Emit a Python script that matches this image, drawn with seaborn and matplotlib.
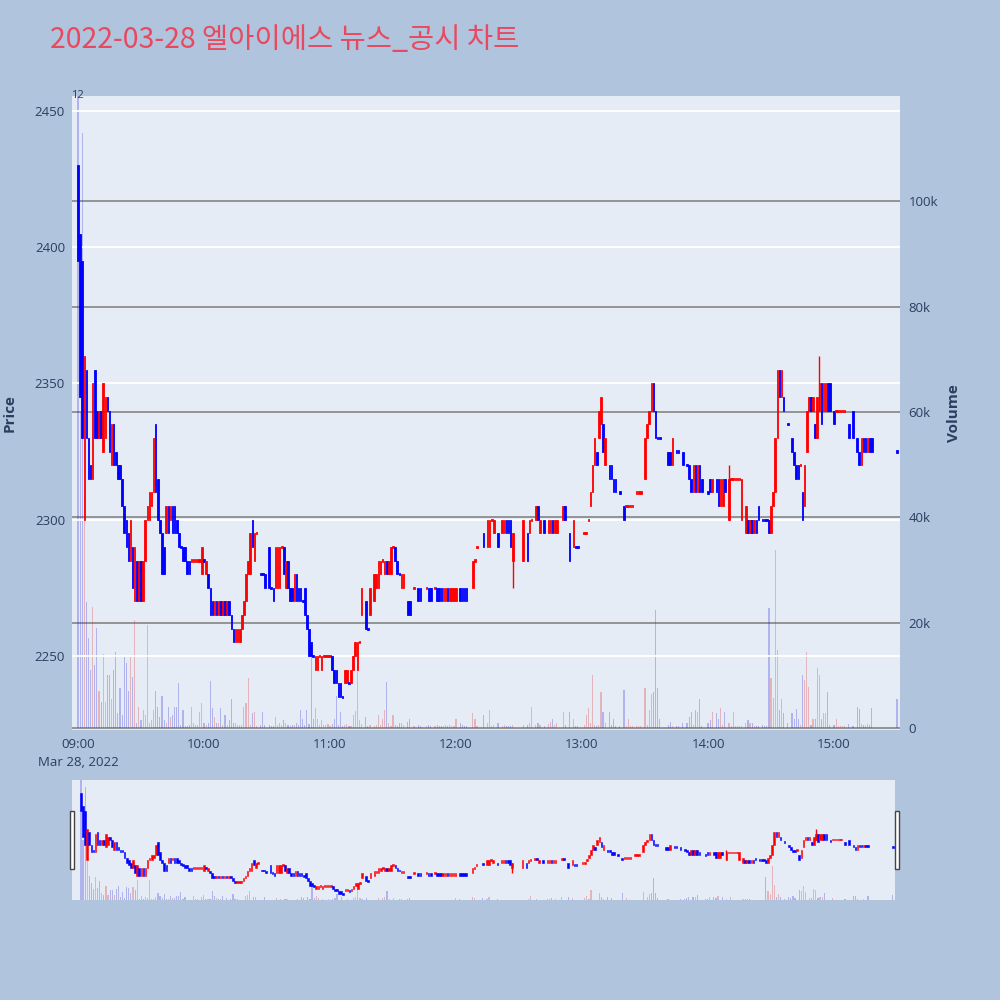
import numpy as np
import pandas as pd
import seaborn as sns
import matplotlib.pyplot as plt
from matplotlib.patches import Rectangle

# minutes after 09:00 that traded, with open / close (KRW) and volume (thousand shares)
minute = [
    0, 1, 2, 3, 4, 5, 6, 7, 8, 9, 10, 11, 12, 13, 14, 15, 16, 17, 18, 19,
    20, 21, 22, 23, 24, 25, 26, 27, 28, 29, 30, 31, 32, 33, 34, 35, 36, 37, 38, 39,
    40, 41, 42, 43, 44, 45, 46, 47, 48, 49, 50, 51, 52, 53, 54, 55, 56, 57, 58, 59,
    60, 61, 62, 63, 64, 65, 66, 67, 68, 69, 70, 71, 72, 73, 74, 75, 76, 77, 78, 79,
    80, 81, 82, 83, 84, 85, 87, 88, 89, 91, 92, 93, 94, 95, 96, 97, 98, 99, 100, 101,
    102, 103, 104, 105, 106, 107, 108, 109, 110, 111, 112, 113, 114, 115, 116, 117, 118, 119, 120, 121,
    122, 123, 124, 125, 126, 127, 128, 129, 130, 131, 132, 133, 134, 135, 137, 138, 139, 141, 142, 143,
    144, 145, 146, 147, 148, 149, 150, 151, 152, 153, 154, 155, 157, 158, 160, 162, 163, 166, 167, 168,
    170, 171, 172, 173, 174, 175, 176, 177, 178, 179, 180, 182, 183, 184, 185, 188, 189, 190, 193, 195,
    196, 197, 198, 200, 202, 203, 204, 205, 206, 207, 212, 214, 215, 216, 218, 219, 220, 222, 224, 225,
    226, 227, 228, 231, 232, 234, 236, 237, 238, 241, 242, 243, 244, 245, 246, 247, 248, 249, 250, 251,
    253, 254, 255, 256, 258, 260, 261, 262, 263, 264, 266, 267, 268, 270, 271, 272, 273, 274, 275, 276,
    277, 281, 282, 283, 285, 286, 288, 290, 291, 292, 293, 294, 295, 296, 297, 300, 301, 302, 304, 305,
    306, 307, 308, 310, 311, 312, 313, 314, 315, 316, 318, 319, 320, 321, 322, 323, 324, 326, 327, 328,
    329, 330, 331, 332, 333, 334, 335, 336, 338, 340, 341, 342, 343, 344, 345, 346, 347, 348, 349, 350,
    351, 352, 353, 354, 355, 356, 357, 358, 360, 361, 362, 363, 364, 365, 367, 369, 371, 372, 373, 374,
    375, 376, 377, 378, 390,
]
opens = [
    2430, 2405, 2395, 2300, 2355, 2330, 2320, 2315, 2355, 2340, 2330, 2340, 2325, 2330, 2345, 2340, 2320, 2335, 2325, 2320,
    2320, 2315, 2305, 2300, 2295, 2285, 2290, 2270, 2285, 2270, 2285, 2270, 2285, 2300, 2300, 2305, 2310, 2335, 2315, 2300,
    2295, 2290, 2295, 2305, 2300, 2305, 2305, 2300, 2295, 2290, 2290, 2290, 2285, 2285, 2285, 2285, 2285, 2285, 2285, 2280,
    2285, 2280, 2280, 2275, 2270, 2265, 2270, 2265, 2270, 2265, 2270, 2265, 2270, 2265, 2260, 2255, 2255, 2255, 2260, 2265,
    2270, 2280, 2280, 2300, 2285, 2295, 2280, 2280, 2280, 2290, 2275, 2275, 2275, 2275, 2275, 2290, 2290, 2275, 2285, 2275,
    2275, 2270, 2280, 2275, 2275, 2270, 2275, 2265, 2260, 2255, 2250, 2245, 2245, 2250, 2245, 2250, 2250, 2250, 2250, 2250,
    2245, 2245, 2240, 2240, 2235, 2240, 2240, 2240, 2240, 2245, 2250, 2245, 2255, 2265, 2270, 2260, 2265, 2270, 2275, 2275,
    2280, 2285, 2280, 2285, 2280, 2280, 2290, 2290, 2285, 2280, 2275, 2275, 2270, 2270, 2275, 2275, 2275, 2275, 2275, 2275,
    2275, 2275, 2275, 2275, 2270, 2270, 2275, 2270, 2270, 2270, 2270, 2275, 2275, 2275, 2275, 2275, 2285, 2290, 2295, 2290,
    2290, 2300, 2295, 2295, 2295, 2295, 2300, 2300, 2300, 2285, 2285, 2295, 2295, 2300, 2300, 2305, 2295, 2300, 2295, 2295,
    2300, 2295, 2295, 2300, 2305, 2295, 2290, 2290, 2290, 2295, 2295, 2300, 2305, 2310, 2320, 2325, 2330, 2335, 2335, 2320,
    2320, 2320, 2315, 2315, 2310, 2305, 2305, 2305, 2305, 2305, 2310, 2310, 2310, 2315, 2330, 2335, 2340, 2350, 2340, 2330,
    2330, 2325, 2325, 2320, 2325, 2325, 2325, 2320, 2320, 2315, 2310, 2320, 2310, 2320, 2315, 2310, 2315, 2310, 2315, 2315,
    2305, 2305, 2315, 2300, 2315, 2315, 2315, 2315, 2315, 2300, 2295, 2300, 2295, 2300, 2295, 2300, 2305, 2300, 2300, 2300,
    2300, 2295, 2305, 2310, 2330, 2355, 2345, 2345, 2335, 2330, 2325, 2320, 2320, 2320, 2310, 2305, 2325, 2340, 2345, 2340,
    2335, 2330, 2340, 2350, 2340, 2340, 2350, 2350, 2340, 2340, 2340, 2340, 2340, 2340, 2335, 2340, 2330, 2325, 2320, 2330,
    2330, 2325, 2330, 2330, 2325,
]
closes = [
    2395, 2345, 2330, 2360, 2330, 2315, 2315, 2350, 2330, 2330, 2340, 2330, 2350, 2345, 2340, 2325, 2335, 2320, 2320, 2315,
    2315, 2305, 2295, 2290, 2285, 2300, 2275, 2290, 2270, 2285, 2270, 2285, 2300, 2305, 2310, 2310, 2330, 2310, 2300, 2295,
    2280, 2280, 2305, 2295, 2305, 2295, 2295, 2295, 2290, 2290, 2285, 2285, 2280, 2280, 2285, 2285, 2285, 2285, 2285, 2290,
    2285, 2285, 2275, 2265, 2265, 2270, 2265, 2270, 2265, 2270, 2265, 2270, 2265, 2260, 2255, 2260, 2260, 2260, 2265, 2270,
    2280, 2285, 2295, 2290, 2295, 2295, 2280, 2280, 2275, 2275, 2275, 2270, 2290, 2290, 2290, 2290, 2280, 2285, 2275, 2270,
    2270, 2280, 2270, 2270, 2270, 2270, 2265, 2260, 2250, 2250, 2250, 2250, 2250, 2250, 2250, 2250, 2250, 2250, 2250, 2245,
    2240, 2240, 2235, 2235, 2235, 2245, 2245, 2240, 2245, 2250, 2255, 2255, 2255, 2275, 2260, 2260, 2275, 2280, 2280, 2285,
    2285, 2285, 2285, 2280, 2285, 2290, 2290, 2285, 2280, 2280, 2280, 2280, 2265, 2265, 2275, 2270, 2270, 2275, 2270, 2270,
    2275, 2270, 2270, 2270, 2275, 2275, 2270, 2275, 2275, 2275, 2275, 2270, 2270, 2270, 2270, 2285, 2285, 2290, 2290, 2300,
    2300, 2300, 2300, 2290, 2300, 2300, 2295, 2295, 2290, 2295, 2300, 2285, 2300, 2300, 2305, 2300, 2300, 2295, 2300, 2300,
    2295, 2300, 2300, 2305, 2300, 2285, 2300, 2290, 2290, 2295, 2295, 2300, 2310, 2320, 2330, 2320, 2340, 2345, 2325, 2330,
    2315, 2315, 2310, 2310, 2310, 2300, 2305, 2305, 2305, 2305, 2310, 2310, 2310, 2330, 2335, 2340, 2350, 2340, 2330, 2330,
    2330, 2320, 2320, 2330, 2325, 2325, 2320, 2320, 2315, 2310, 2320, 2310, 2320, 2310, 2310, 2310, 2310, 2315, 2310, 2305,
    2315, 2315, 2310, 2315, 2315, 2315, 2315, 2315, 2315, 2315, 2305, 2295, 2300, 2295, 2300, 2295, 2300, 2300, 2300, 2300,
    2295, 2305, 2310, 2330, 2355, 2345, 2355, 2340, 2335, 2325, 2320, 2315, 2315, 2320, 2300, 2320, 2340, 2345, 2340, 2345,
    2330, 2345, 2350, 2335, 2350, 2350, 2340, 2340, 2335, 2340, 2340, 2340, 2340, 2340, 2330, 2330, 2325, 2320, 2330, 2325,
    2325, 2330, 2325, 2325, 2325,
]
volume_k = [
    130, 60, 113, 45, 24, 17, 11, 23, 12, 19, 7, 5, 14, 5, 10, 10, 5.5, 11, 14.4, 2.8,
    7.6, 2.5, 13.5, 12.3, 7, 13.5, 9.7, 20.5, 1, 4, 1.5, 3.5, 2.5, 19.6, 1, 1.5, 3.5, 7, 4, 2,
    6, 1.5, 1, 4, 2, 2.5, 4, 4, 8.5, 0.6, 3.4, 0.3, 0.3, 0.5, 4, 1, 0.6, 0.5, 3, 4.8,
    1, 0.6, 1, 9, 3.8, 2, 1, 1, 3.8, 0.5, 2.5, 0.5, 1.5, 5.6, 1, 1, 0.5, 0.5, 0.5, 4,
    4.8, 9.5, 0.5, 2.8, 3, 0.3, 0.5, 3, 0.5, 0.5, 0.3, 0.3, 2, 0.5, 1, 0.5, 1.5, 1, 0.5, 0.3,
    0.5, 0.5, 1, 0.5, 3.5, 1.7, 0.5, 3.5, 0.8, 16, 1.7, 3.8, 1.7, 0.5, 1.5, 0.5, 0.5, 0.8, 0.3, 0.8,
    1.7, 6, 0.5, 3, 0.3, 0.5, 0.8, 0.3, 0.3, 2.5, 3.2, 16, 1.6, 0.7, 2, 0.3, 0.5, 0.3, 0.5, 2.5,
    0.5, 1.7, 3.5, 8.8, 1, 0.3, 2.5, 0.5, 0.3, 1, 1, 0.5, 1.2, 1.7, 0.3, 0.5, 0.3, 0.3, 0.5, 0.3,
    0.3, 0.5, 0.3, 0.3, 0.3, 0.5, 0.3, 0.5, 0.3, 0.3, 1.7, 1, 0.5, 0.3, 0.3, 2.8, 1.7, 0.3, 2.5, 1,
    3.5, 0.3, 0.5, 1, 0.3, 0.5, 0.3, 0.3, 0.3, 0.5, 0.5, 0.5, 1, 4, 0.5, 1, 0.5, 0.3, 0.8, 1.2,
    1.7, 0.5, 1, 3, 0.5, 3, 1.7, 0.3, 0.3, 0.5, 2.5, 3.8, 1, 10, 0.5, 0.3, 0.5, 6.8, 3, 1,
    3, 0.5, 1.7, 0.3, 0.3, 7.2, 0.3, 1.7, 0.3, 0.3, 0.3, 0.3, 0.3, 7.6, 0.5, 3.5, 6.5, 6.8, 22.4, 7.5,
    1.7, 0.5, 1.2, 0.3, 0.3, 0.3, 1, 1, 2, 3, 0.5, 3.5, 3, 5.5, 0.3, 1, 1.5, 3, 2.8, 1.7,
    3.8, 0.5, 3, 1, 0.3, 3, 0.3, 0.3, 0.3, 0.3, 1, 1.5, 1, 1, 0.3, 0.3, 0.3, 0.5, 0.3, 0.3,
    22.8, 9.5, 5.7, 33.8, 14.8, 3.5, 5.6, 2.8, 1, 2.8, 1.7, 3.7, 1.7, 0.5, 10, 9.2, 14.4, 7.7, 0.5, 1.7,
    1.7, 11.4, 10, 1.7, 2.8, 2.8, 6.8, 0.5, 0.5, 1.7, 0.3, 0.3, 0.3, 0.3, 0.8, 0.3, 4, 3.7, 0.8, 0.5,
    0.3, 0.8, 0.5, 3.8, 5.5,
]

# a few candles with visible wicks
wick_minute = [207, 310, 353]
wick_low = [2275, 2300, 2340]
wick_high = [2295, 2320, 2360]

price_ticks = [2250, 2300, 2350, 2400, 2450]
volume_ticks = [0, 20000, 40000, 60000, 80000, 100000]
volume_labels = ['0', '20k', '40k', '60k', '80k', '100k']
time_ticks = [0, 60, 120, 180, 240, 300, 360]
time_labels = ['09:00\nMar 28, 2022', '10:00', '11:00', '12:00', '13:00', '14:00', '15:00']

title = '2022-03-28 엘아이에스 뉴스_공시 차트'
UP, DOWN = '#FF0000', '#0000FF'
BG, PLOT_BG, FONT = '#B0C4DE', '#E5ECF6', '#2a3f5f'

df = pd.DataFrame({'minute': minute, 'open': opens, 'close': closes,
                   'volume': np.array(volume_k) * 1000})

# doji candles take their direction from the previous close (plotly style)
up = []
last_close, last_up = None, False
for o, c in zip(df['open'], df['close']):
    if c != o:
        u = c > o
    elif last_close is not None and c != last_close:
        u = c > last_close
    else:
        u = last_up
    up.append(u)
    last_close, last_up = c, u
df['dir'] = np.where(up, 'up', 'down')

sns.set_theme(style='white')
plt.rcParams['font.family'] = ['Open Sans', 'Noto Sans CJK KR', 'DejaVu Sans']


def draw(ax_p, ax_v, min_body, body_lw):
    sns.barplot(data=df, x='minute', y='volume', hue='dir', native_scale=True,
                palette={'up': UP, 'down': DOWN}, alpha=0.27, width=0.55,
                dodge=False, errorbar=None, legend=False, linewidth=0, ax=ax_v)
    colors = np.where(df['dir'] == 'up', UP, DOWN)
    lo = np.minimum(df['open'], df['close']).astype(float)
    hi = np.maximum(df['open'], df['close']).astype(float)
    h = np.maximum(hi - lo, min_body)
    bottom = np.where(hi - lo < min_body, (lo + hi) / 2 - min_body / 2, lo)
    ax_p.bar(df['minute'], h, bottom=bottom, width=0.75, color=colors,
             edgecolor=colors, linewidth=body_lw, zorder=3)
    for m, l, hh in zip(wick_minute, wick_low, wick_high):
        c = colors[df.index[df['minute'] == m][0]]
        ax_p.vlines(m, l, hh, color=c, linewidth=1, zorder=2)


def stack(rect):
    ax_p = fig.add_axes(rect)
    ax_v = ax_p.twinx()
    ax_p.set_zorder(2)
    ax_v.set_zorder(1)
    ax_p.patch.set_visible(False)
    ax_v.patch.set_visible(True)
    ax_v.patch.set_facecolor(PLOT_BG)
    return ax_p, ax_v


fig = plt.figure(figsize=(10, 10), dpi=100, facecolor=BG)

# main chart
ax_p, ax_v = stack([0.072, 0.27, 0.828, 0.634])
draw(ax_p, ax_v, 0.8, 0.6)

ax_p.set_xlim(-2.86, 391.4)
ax_p.set_ylim(2222.8, 2455.5)
ax_v.set_ylim(-380, 120000)
ax_p.set_yticks(price_ticks)
ax_p.set_yticklabels([str(t) for t in price_ticks])
ax_v.set_yticks(volume_ticks)
ax_v.set_yticklabels(volume_labels)
ax_p.set_xticks(time_ticks)
ax_p.set_xticklabels(time_labels, linespacing=1.45)
ax_p.grid(axis='y', color='white', linewidth=1.3)
ax_p.grid(axis='x', visible=False)
ax_v.grid(axis='y', color='#8c8c8c', linewidth=1.3)
ax_v.grid(axis='x', visible=False)
for ax in (ax_p, ax_v):
    ax.set_xlabel('')
    ax.set_ylabel('')
    for s in ax.spines.values():
        s.set_visible(False)
    ax.tick_params(length=0, labelsize=9.5, labelcolor=FONT, pad=6)
ax_p.tick_params(axis='y', pad=5)
fig.text(0.010, 0.587, 'Price', fontsize=11, color=FONT, fontweight='bold',
         rotation=90, ha='center', va='center')
fig.text(0.954, 0.587, 'Volume', fontsize=11, color=FONT, fontweight='bold',
         rotation=90, ha='center', va='center')

# range slider
ax_sp, ax_sv = stack([0.072, 0.10, 0.823, 0.12])
draw(ax_sp, ax_sv, 3.5, 0.4)
ax_sp.set_xlim(-4.3, 391)
ax_sp.set_ylim(2222.8, 2455.5)
ax_sv.set_ylim(0, 120000)
for ax in (ax_sp, ax_sv):
    ax.set_xticks([])
    ax.set_yticks([])
    ax.set_xlabel('')
    ax.set_ylabel('')
    ax.grid(False)
    for s in ax.spines.values():
        s.set_visible(False)

for x0 in (0.0695, 0.8945):
    fig.patches.append(Rectangle((x0, 0.131), 0.004, 0.058, transform=fig.transFigure,
                                 facecolor='white', edgecolor='#444444', linewidth=1))

fig.text(0.05, 0.96, title, fontsize=20.5, color='#E8495F', va='center',
         family=['Noto Sans CJK KR', 'DejaVu Sans'])
fig.text(0.077, 0.904, '12', fontsize=8, color=FONT, ha='center', va='center')

fig.savefig('out.png', dpi=100, facecolor=BG)
